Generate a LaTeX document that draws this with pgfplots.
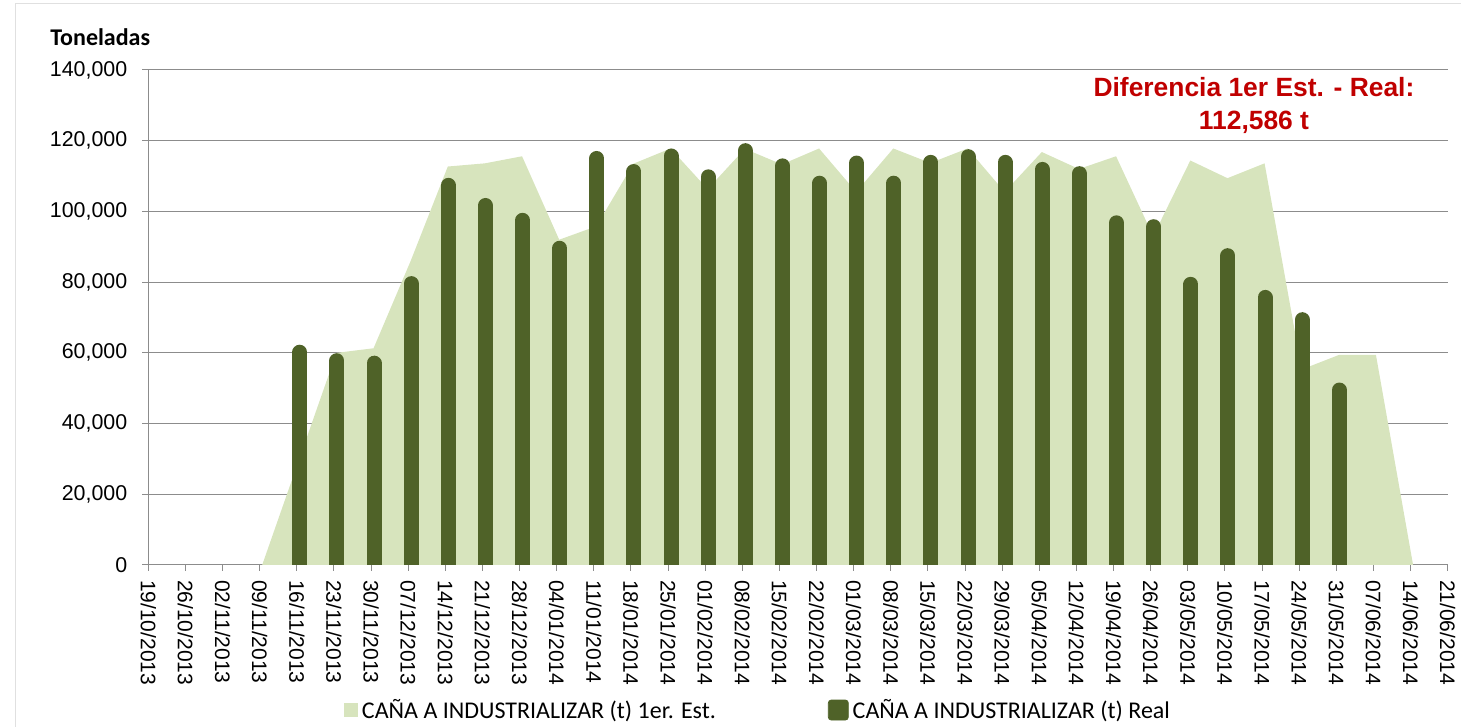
\documentclass[border=0pt]{standalone}
\usepackage{fontspec}
\setmainfont{Liberation Sans}
\newfontfamily\calibri{Carlito}
\usepackage{pgfplots}
\pgfplotsset{compat=1.18}
\definecolor{areafill}{HTML}{D7E4BD}
\definecolor{barcol}{HTML}{4F6228}
\definecolor{redtxt}{HTML}{C00000}
\definecolor{gridgray}{HTML}{8C8C8C}
\begin{document}
\begin{tikzpicture}
\useasboundingbox (0pt,0pt) rectangle (730.5pt,363.5pt);
\draw[color=black!12, line width=0.5pt] (7.5pt,0pt) -- (7.5pt,361.8pt) -- (730.5pt,361.8pt);
\begin{axis}[
  at={(74.15pt,81pt)}, anchor=south west,
  scale only axis, width=649.7pt, height=247.5pt,
  xmin=0, xmax=35, ymin=0, ymax=140000,
  axis x line*=bottom, axis y line*=left,
  axis line style={gridgray, line width=0.5pt},
  xtick={0,...,35},
  xticklabels={19/10/2013,26/10/2013,02/11/2013,09/11/2013,16/11/2013,23/11/2013,30/11/2013,07/12/2013,14/12/2013,21/12/2013,28/12/2013,04/01/2014,11/01/2014,18/01/2014,25/01/2014,01/02/2014,08/02/2014,15/02/2014,22/02/2014,01/03/2014,08/03/2014,15/03/2014,22/03/2014,29/03/2014,05/04/2014,12/04/2014,19/04/2014,26/04/2014,03/05/2014,10/05/2014,17/05/2014,24/05/2014,31/05/2014,07/06/2014,14/06/2014,21/06/2014},
  ytick={0,20000,40000,60000,80000,100000,120000,140000},
  scaled y ticks=false,
  ymajorgrids,
  grid style={gridgray, line width=0.5pt},
  tick align=outside, major tick length=3pt,
  tick style={gridgray, line width=0.5pt},
  xticklabel style={rotate=-90, anchor=west, yshift=0pt, xshift=1pt, font=\fontsize{10.5}{12}\selectfont},
  yticklabel style={xshift=-4pt, font=\fontsize{10.7}{12}\selectfont, /pgf/number format/.cd, fixed, 1000 sep={,}, assume math mode=true},
  clip=true,
  legend columns=2,
  legend style={at={(axis description cs:0.1506,-0.293)}, anchor=west, draw=none, fill=none, inner sep=0pt,
    font=\calibri\fontsize{12}{14}\selectfont,
    /tikz/every even column/.append style={column sep=54pt}},
]
\addplot[fill=areafill, draw=none, xshift=1.25pt, forget plot] coordinates {
 (3,0) (4,30000) (5,60000) (6,61300) (7,86000) (8,112700) (9,113600) (10,115600)
 (11,92000) (12,95800) (13,113500) (14,117800) (15,106300) (16,117700) (17,113300)
 (18,117800) (19,105500) (20,117800) (21,113700) (22,117800) (23,105500) (24,116800)
 (25,112000) (26,115600) (27,93000) (28,114400) (29,109400) (30,113600) (31,55300)
 (32,59400) (33,59400) (34,0)
} \closedcycle;
\addplot[ycomb, barcol, line width=7.5pt, line cap=round, xshift=1.5pt, yshift=-3.75pt, forget plot] coordinates {
 (4,62300) (5,59900) (6,59200) (7,81700) (8,109500) (9,103800) (10,99600) (11,91700)
 (12,117100) (13,113400) (14,117800) (15,111900) (16,119300) (17,115000) (18,110100)
 (19,115800) (20,110100) (21,116000) (22,117600) (23,116000) (24,114000) (25,112800)
 (26,98900) (27,97800) (28,81500) (29,89600) (30,77800) (31,71500) (32,51600)
};
\addlegendimage{legend image code/.code={\fill[areafill] (0pt,-3.2pt) rectangle (6.4pt,3.2pt);}}
\addlegendentry{CAÑA A INDUSTRIALIZAR (t) 1er. Est.}
\addlegendimage{legend image code/.code={\fill[barcol, rounded corners=1.5pt] (0pt,-5pt) rectangle (10pt,5pt);}}
\addlegendentry{CAÑA A INDUSTRIALIZAR (t) Real}
\end{axis}
\node[anchor=base west, inner sep=0pt, font=\calibri\bfseries\fontsize{12}{14}\selectfont] at (25pt,340.6pt) {Toneladas};
\node[anchor=base, inner sep=0pt, text=redtxt, font=\bfseries\fontsize{13.2}{15}\selectfont] at (627pt,315pt) {Diferencia 1er Est. - Real:};
\node[anchor=base, inner sep=0pt, text=redtxt, font=\bfseries\fontsize{13.2}{15}\selectfont] at (627pt,298.5pt) {112,586 t};
\end{tikzpicture}
\end{document}
